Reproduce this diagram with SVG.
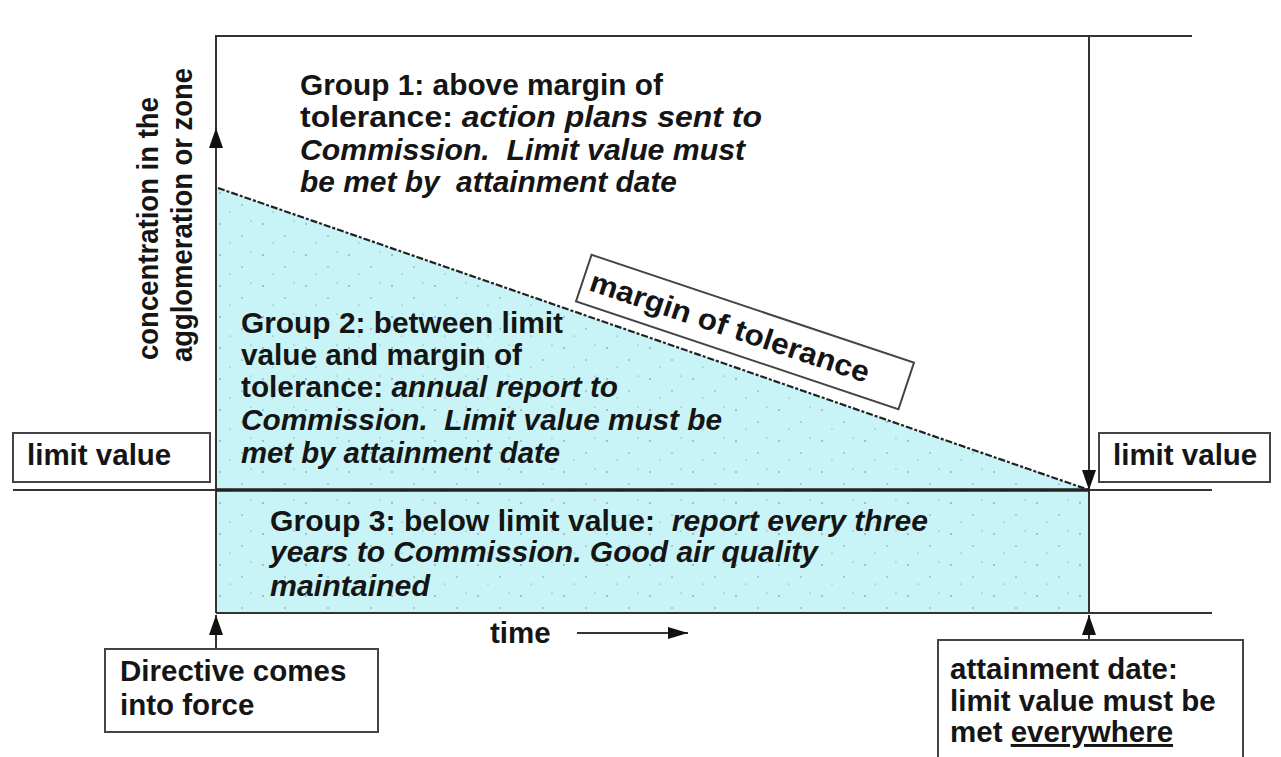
<svg xmlns="http://www.w3.org/2000/svg" width="1281" height="757" viewBox="0 0 1281 757">
<defs>
<style>
.t{font-family:"Liberation Sans",Arial,sans-serif;font-weight:bold;font-size:29.5px;fill:#151515}
.i{font-style:italic}
.box{fill:#fff;stroke:#444;stroke-width:2}
.ln{stroke:#333;stroke-width:2;fill:none}
.thick{stroke:#222;stroke-width:3.5;fill:none}
.dash{stroke:#222;stroke-width:2.2;fill:none;stroke-dasharray:7 2 3 2}
</style>
<marker id="ah" markerUnits="userSpaceOnUse" markerWidth="20" markerHeight="14" refX="20" refY="7" orient="auto">
<path d="M0,0 L20,7 L0,14 z" fill="#111"/>
</marker>
<marker id="ahs" markerUnits="userSpaceOnUse" markerWidth="20" markerHeight="12" refX="20" refY="6" orient="auto">
<path d="M0,0 L20,6 L0,12 z" fill="#111"/>
</marker>
<pattern id="dots" width="43" height="31" patternUnits="userSpaceOnUse">
<circle cx="5" cy="7" r="0.8" fill="#333"/>
<circle cx="27" cy="19" r="0.7" fill="#333"/>
<circle cx="36" cy="4" r="0.6" fill="#333"/>
<circle cx="15" cy="26" r="0.6" fill="#333"/>
</pattern>
</defs>
<rect width="1281" height="757" fill="#ffffff"/>

<g id="region">
<polygon points="218,188 1089,490 1089,613 216,613 216,188" fill="#c9f4f7"/>
<polygon points="218,188 1089,490 1089,613 216,613 216,188" fill="url(#dots)" opacity="0.6"/>
</g>

<g id="connectors">
<path class="ln" d="M216,613 V128" marker-end="url(#ah)"/>
<path class="ln" d="M216,128 V36 H1192"/>
<path class="ln" d="M1089,36 V490" marker-end="url(#ah)"/>
<path class="ln" d="M1089,490 V613"/>
<path class="ln" d="M13,490 H216"/>
<path class="thick" d="M216,490 H1089"/>
<path class="ln" d="M1089,490 H1212"/>
<path class="ln" d="M216,613 H1212"/>
<path class="dash" d="M218,188 L1089,490"/>
<path class="ln" d="M216,649 V615" marker-end="url(#ah)"/>
<path class="ln" d="M1089,640 V615" marker-end="url(#ah)"/>
<path class="ln" d="M577,633 H688" marker-end="url(#ahs)"/>
</g>

<g id="axis-label">
<text class="t" transform="translate(158,360) rotate(-90)" textLength="263" lengthAdjust="spacingAndGlyphs">concentration in the</text>
<text class="t" transform="translate(192,362) rotate(-90)" textLength="294" lengthAdjust="spacingAndGlyphs">agglomeration or zone</text>
</g>

<g id="group1">
<text class="t" x="300" y="95" textLength="363" lengthAdjust="spacingAndGlyphs">Group 1: above margin of</text>
<text class="t" x="300" y="127" textLength="462" lengthAdjust="spacingAndGlyphs">tolerance: <tspan class="i">action plans sent to</tspan></text>
<text class="t i" x="300" y="160" textLength="445" lengthAdjust="spacingAndGlyphs" xml:space="preserve">Commission.  Limit value must</text>
<text class="t i" x="300" y="192" textLength="377" lengthAdjust="spacingAndGlyphs" xml:space="preserve">be met by  attainment date</text>
</g>

<g id="group2">
<text class="t" x="241" y="333" textLength="322" lengthAdjust="spacingAndGlyphs">Group 2: between limit</text>
<text class="t" x="241" y="365" textLength="281" lengthAdjust="spacingAndGlyphs">value and margin of</text>
<text class="t" x="241" y="397" textLength="377" lengthAdjust="spacingAndGlyphs">tolerance: <tspan class="i">annual report to</tspan></text>
<text class="t i" x="241" y="430" textLength="481" lengthAdjust="spacingAndGlyphs" xml:space="preserve">Commission.  Limit value must be</text>
<text class="t i" x="241" y="463" textLength="319" lengthAdjust="spacingAndGlyphs">met by attainment date</text>
</g>

<g id="group3">
<text class="t" x="270" y="531" textLength="658" lengthAdjust="spacingAndGlyphs" xml:space="preserve">Group 3: below limit value:  <tspan class="i">report every three</tspan></text>
<text class="t i" x="270" y="562" textLength="548" lengthAdjust="spacingAndGlyphs">years to Commission. Good air quality</text>
<text class="t i" x="270" y="596" textLength="160" lengthAdjust="spacingAndGlyphs">maintained</text>
</g>

<g id="margin-label" transform="translate(745,332) rotate(18.5)">
<rect x="-170" y="-24.5" width="340" height="49" class="box"/>
<text class="t" x="-16" y="10" text-anchor="middle" font-size="31" textLength="293" lengthAdjust="spacingAndGlyphs">margin of tolerance</text>
</g>

<g id="limit-left">
<rect x="13" y="433" width="197" height="49" class="box"/>
<text class="t" x="27" y="465">limit value</text>
</g>

<g id="limit-right">
<rect x="1099" y="433" width="171" height="49" class="box"/>
<text class="t" x="1113" y="465">limit value</text>
</g>

<g id="time-label">
<text class="t" x="490" y="643">time</text>
</g>

<g id="directive">
<rect x="105" y="649" width="273" height="83" class="box"/>
<text class="t" x="120" y="681">Directive comes</text>
<text class="t" x="120" y="715">into force</text>
</g>

<g id="attainment">
<rect x="938" y="640" width="305" height="125" class="box"/>
<text class="t" x="950" y="679">attainment date:</text>
<text class="t" x="950" y="711">limit value must be</text>
<text class="t" x="950" y="742">met <tspan style="text-decoration:underline">everywhere</tspan></text>
</g>
</svg>
